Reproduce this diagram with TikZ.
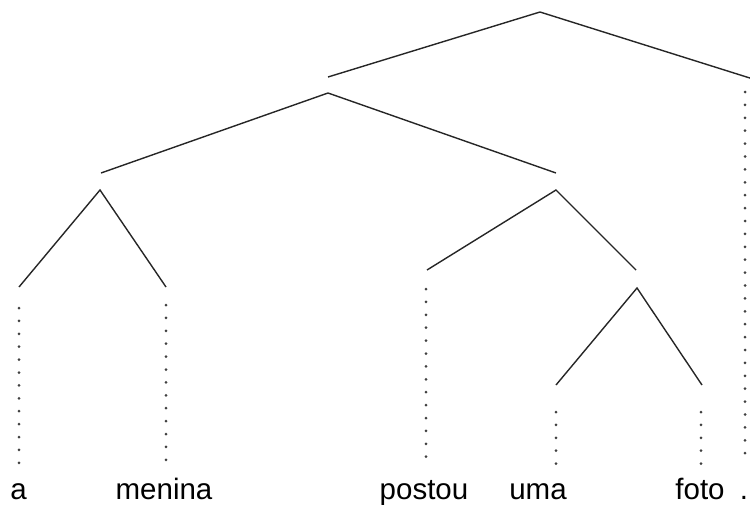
\documentclass[tikz,border=0pt]{standalone}
\usepackage{fontspec}
\setmainfont{Liberation Sans}
\begin{document}
\begin{tikzpicture}[x=1pt,y=-1pt,
  branch/.style={line width=1.4pt,black!85},
  leafline/.style={line width=3pt,line cap=round,dash pattern=on 0pt off 12.9pt,black!75},
  word/.style={anchor=base,inner sep=0pt,font=\fontsize{29.5}{34}\selectfont}]
\useasboundingbox (0,0) rectangle (750,504);
% tree nodes
\coordinate (r) at (540,12);
\coordinate (r1) at (328,77);
\coordinate (r2) at (753,79);
\coordinate (n1) at (328,93);
\coordinate (n1l) at (101,173);
\coordinate (n1r) at (556,173);
\coordinate (n2) at (100,190);
\coordinate (n2l) at (19,287);
\coordinate (n2r) at (166,287);
\coordinate (n3) at (556,190);
\coordinate (n3l) at (427,270);
\coordinate (n3r) at (636,270);
\coordinate (n4) at (637,288);
\coordinate (n4l) at (556,385);
\coordinate (n4r) at (702,385);
\draw[branch] (r1) -- (r) -- (r2);
\draw[branch] (n1l) -- (n1) -- (n1r);
\draw[branch] (n2l) -- (n2) -- (n2r);
\draw[branch] (n3l) -- (n3) -- (n3r);
\draw[branch] (n4l) -- (n4) -- (n4r);
% dotted leaf lines
\coordinate (ta) at (19,308);   \coordinate (ba) at (19,464);
\coordinate (tm) at (166,305);  \coordinate (bm) at (166,461);
\coordinate (tp) at (426,289);  \coordinate (bp) at (426,458);
\coordinate (tu) at (556,412);  \coordinate (bu) at (556,465);
\coordinate (tf) at (701,412);  \coordinate (bf) at (701,465);
\coordinate (tx) at (745,92);   \coordinate (bx) at (745,465);
\draw[leafline] (ta) -- (ba);
\draw[leafline] (tm) -- (bm);
\draw[leafline] (tp) -- (bp);
\draw[leafline] (tu) -- (bu);
\draw[leafline] (tf) -- (bf);
\draw[leafline] (tx) -- (bx);
% words
\node[word] (wa) at (18.5,499) {a};
\node[word] (wm) at (164,499) {menina};
\node[word] (wp) at (424,499) {postou};
\node[word] (wu) at (538,499) {uma};
\node[word] (wf) at (700,499) {foto};
\node[word] (wx) at (744,499) {.};
\end{tikzpicture}
\end{document}
